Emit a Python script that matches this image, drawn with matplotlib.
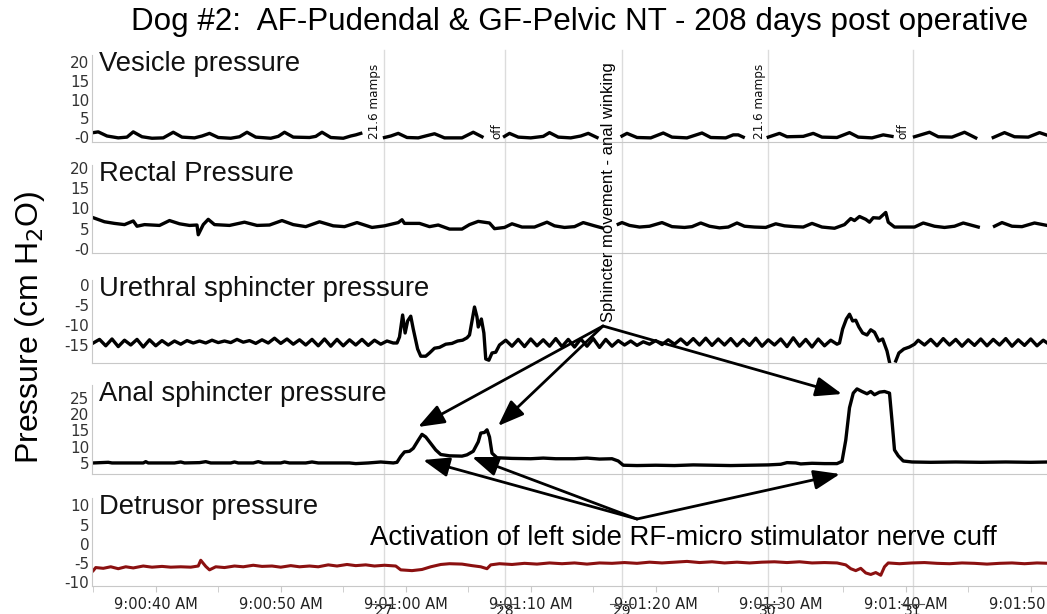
import matplotlib
matplotlib.use("Agg")
import matplotlib.pyplot as plt
import numpy as np
from matplotlib.lines import Line2D
from matplotlib.patches import FancyArrowPatch
from matplotlib.ticker import MultipleLocator, FuncFormatter, FixedLocator, FixedFormatter

plt.rcParams['axes.unicode_minus'] = False
nan = np.nan

# time in seconds after 9:00:40 AM, value in cm H2O
vesicle = [(-5.0, 1.2), (-4.6, 1.4), (-3.9, 0.3), (-3.0, -0.2), (-2.3, 0.0), (-1.8, 1.4), (-1.1, 0.1),
           (-0.3, -0.3), (0.6, -0.2), (1.4, 1.3), (2.1, 0.0), (3.1, -0.2), (3.7, 0.3), (4.3, 1.0),
           (5.0, -0.1), (6.0, -0.3), (6.7, 0.1), (7.3, 1.3), (8.0, 0.0), (9.2, -0.3), (9.8, 0.2),
           (10.3, 1.3), (11.0, 0.0), (12.3, -0.1), (12.8, 0.2), (13.3, 1.3), (14.0, -0.1), (15.0, -0.3),
           (15.6, 0.3), (16.0, 0.6), (16.4, 1.0), (17.3, nan), (18.3, -0.1), (18.8, 0.3), (19.4, 1.0),
           (20.1, -0.1), (21.0, -0.2), (21.7, 0.4), (22.3, 0.9), (23.1, -0.2), (24.5, -0.2), (25.4, 1.3),
           (26.1, 0.1), (27.0, nan), (27.9, 0.2), (28.3, 1.0), (29.0, 0.0), (30.0, -0.2), (31.0, 0.2),
           (31.5, 1.2), (32.2, 0.0), (33.2, -0.2), (34.0, 0.3), (34.6, 1.0), (35.3, -0.1), (36.3, nan),
           (37.3, 0.3), (37.7, 1.0), (38.5, -0.1), (39.6, -0.2), (40.6, 1.1), (41.3, 0.0), (42.5, -0.2),
           (43.7, 1.1), (44.4, -0.1), (45.6, -0.2), (46.2, 0.6), (46.6, 0.6), (47.0, 0.0), (48.0, nan),
           (49.0, 0.0), (49.9, 1.0), (50.5, 0.1), (51.8, 0.2), (52.6, 1.0), (53.3, 0.0), (54.5, -0.1),
           (55.5, 1.2), (56.2, 0.0), (57.3, -0.2), (58.2, 0.6), (58.9, 0.2), (59.8, nan), (60.7, 0.1),
           (61.9, 1.3), (62.6, 0.1), (63.7, 0.0), (64.7, 1.3), (65.6, -0.2), (66.3, nan), (67.0, -0.1),
           (67.9, 1.2), (68.7, 0.1), (69.8, 0.0), (70.7, 1.2), (71.5, 0.3)]

rectal = [(-5.0, 7.7), (-4.1, 6.7), (-3.3, 6.3), (-2.5, 6.0), (-1.8, 6.9), (-1.5, 5.6), (-0.9, 6.0),
          (0.3, 5.8), (1.1, 7.0), (1.9, 6.2), (2.7, 5.8), (3.3, 5.9), (3.4, 3.5), (3.8, 6.0), (4.2, 7.3),
          (4.7, 6.0), (5.9, 5.8), (7.1, 6.6), (8.1, 5.8), (9.1, 5.9), (10.1, 7.0), (11.0, 6.0), (12.0, 5.5),
          (13.1, 6.7), (14.2, 5.7), (15.1, 5.5), (16.1, 6.5), (17.3, 5.3), (18.3, 5.7), (19.4, 6.5),
          (19.7, 7.2), (19.9, 6.3), (21.1, 6.3), (21.9, 5.5), (22.6, 5.9), (23.5, 4.9), (24.5, 4.9),
          (25.1, 6.0), (25.8, 6.8), (26.7, 6.4), (27.1, 5.0), (27.9, 5.3), (28.5, 6.2), (29.3, 5.4),
          (30.3, 5.4), (31.3, 6.6), (31.9, 5.7), (32.7, 5.3), (33.5, 5.5), (34.2, 6.5), (35.1, 5.7),
          (35.7, 5.2), (36.3, nan), (37.0, 6.1), (37.3, 6.5), (37.9, 5.8), (38.7, 5.4), (39.5, 5.6),
          (40.5, 6.5), (41.3, 5.5), (42.3, 5.3), (42.9, 5.5), (43.6, 6.4), (44.3, 5.6), (45.1, 5.2),
          (45.8, 5.4), (46.5, 6.4), (47.1, 5.6), (47.9, 5.4), (48.8, 5.3), (49.6, 6.2), (50.3, 5.7),
          (51.1, 5.5), (51.8, 5.4), (52.5, 6.3), (53.3, 5.4), (54.3, 5.1), (55.1, 6.0), (55.6, 7.5),
          (55.9, 7.0), (56.3, 8.0), (56.8, 7.3), (57.1, 6.6), (57.4, 7.7), (57.9, 7.6), (58.4, 9.0),
          (58.6, 6.6), (59.1, 5.4), (60.7, 5.4), (61.4, 6.4), (62.3, 5.6), (63.1, 5.3), (63.9, 5.6),
          (64.6, 6.4), (65.8, 5.4), (66.4, nan), (67.1, 5.6), (67.7, 6.5), (68.5, 5.6), (69.3, 5.5),
          (70.3, 6.4), (71.3, 5.8)]

urethral = [(-5.0, -14.5), (-4.5, -13.6), (-4.0, -15.2), (-3.5, -13.5), (-3.0, -15.4), (-2.5, -13.8),
            (-2.0, -15.0), (-1.5, -13.6), (-1.0, -15.5), (-0.5, -13.7), (0.0, -15.2), (0.5, -13.9),
            (1.0, -15.0), (1.5, -14.0), (2.0, -14.8), (2.5, -13.9), (3.0, -14.5), (3.5, -14.0),
            (4.0, -14.5), (4.5, -13.8), (5.0, -14.4), (5.5, -14.0), (6.0, -14.4), (6.5, -13.6),
            (7.0, -14.3), (7.5, -13.9), (8.0, -14.6), (8.5, -13.7), (9.0, -14.5), (9.5, -13.3),
            (10.0, -14.6), (10.5, -13.5), (11.0, -14.8), (11.5, -13.7), (12.0, -15.0), (12.5, -13.6),
            (13.0, -15.2), (13.5, -13.5), (14.0, -15.3), (14.5, -13.6), (15.0, -15.2), (15.5, -13.7),
            (16.0, -15.0), (16.5, -13.6), (17.0, -15.1), (17.5, -13.8), (18.0, -14.8), (18.5, -14.0),
            (19.0, -14.5), (19.3, -14.5), (19.5, -13.0), (19.75, -7.5), (19.95, -12.0), (20.15, -9.0),
            (20.4, -7.8), (20.6, -11.0), (20.95, -16.0), (21.2, -17.8), (21.6, -17.8), (21.9, -17.0),
            (22.3, -15.8), (22.7, -15.6), (23.2, -14.8), (23.7, -14.6), (24.15, -14.0), (24.55, -13.8),
            (24.9, -13.2), (25.1, -12.5), (25.3, -9.0), (25.5, -5.5), (25.7, -8.0), (25.8, -10.5),
            (26.05, -8.5), (26.25, -12.0), (26.4, -18.5), (26.65, -18.8), (26.9, -17.0), (27.2, -16.8),
            (27.5, -15.0), (28.0, -13.8), (28.5, -15.3), (29.0, -13.6), (29.5, -15.4), (30.0, -13.5),
            (30.5, -15.2), (31.0, -13.7), (31.5, -15.3), (32.0, -13.4), (32.5, -15.4), (33.0, -13.6),
            (33.5, -15.5), (34.0, -13.5), (34.5, -15.3), (35.0, -13.4), (35.5, -15.6), (36.0, -13.6),
            (36.5, -15.3), (37.0, -13.9), (37.5, -15.0), (38.0, -14.0), (38.5, -15.1), (39.0, -14.2),
            (39.5, -14.8), (40.0, -13.9), (40.5, -14.9), (41.0, -13.7), (41.5, -14.8), (42.0, -13.5),
            (42.5, -14.9), (43.0, -13.4), (43.5, -15.0), (44.0, -13.3), (44.5, -15.1), (45.0, -13.5),
            (45.5, -15.0), (46.0, -13.4), (46.5, -15.2), (47.0, -13.6), (47.5, -15.1), (48.0, -13.3),
            (48.5, -15.3), (49.0, -13.7), (49.5, -15.0), (50.0, -13.5), (50.5, -15.4), (51.0, -13.2),
            (51.5, -15.3), (52.0, -13.6), (52.5, -15.5), (53.0, -13.5), (53.5, -15.2), (54.0, -13.8),
            (54.5, -14.8), (54.7, -14.5), (54.95, -11.0), (55.25, -8.5), (55.5, -7.3), (55.75, -9.0),
            (56.0, -8.8), (56.25, -10.5), (56.55, -12.0), (56.9, -12.5), (57.2, -11.2), (57.5, -11.8),
            (57.85, -14.0), (58.15, -13.5), (58.5, -16.5), (58.7, -19.3), (58.9, nan), (59.2, -19.0),
            (59.45, -17.0), (59.85, -16.0), (60.3, -15.5), (60.7, -14.8), (61.0, -13.8), (61.5, -15.0),
            (62.0, -13.6), (62.5, -15.2), (63.0, -13.4), (63.5, -15.0), (64.0, -13.6), (64.5, -15.3),
            (65.0, -13.7), (65.5, -15.1), (66.0, -13.5), (66.5, -15.2), (67.0, -13.6), (67.5, -15.0),
            (68.0, -13.4), (68.5, -15.3), (69.0, -13.7), (69.5, -15.1), (70.0, -13.5), (70.5, -15.2),
            (71.0, -13.8), (71.5, -14.9)]

anal = [(-5.0, 5.0), (-3.8, 5.2), (-3.5, 5.0), (-1.0, 5.0), (-0.8, 5.4), (-0.6, 5.0), (1.5, 5.0),
        (2.0, 5.3), (2.3, 5.0), (3.5, 5.1), (4.0, 5.4), (4.4, 5.0), (6.0, 5.0), (6.3, 5.3), (6.6, 5.0),
        (7.8, 5.0), (8.2, 5.4), (8.6, 5.0), (10.0, 5.0), (10.3, 5.3), (10.7, 5.0), (12.0, 5.0),
        (12.5, 5.3), (13.0, 5.0), (15.5, 5.0), (16.0, 4.8), (17.0, 5.0), (18.0, 5.3), (19.0, 5.0),
        (19.3, 5.2), (19.6, 7.0), (19.9, 8.4), (20.3, 8.6), (20.6, 9.5), (21.0, 12.0), (21.3, 13.8),
        (21.6, 13.0), (22.0, 11.0), (22.4, 9.0), (22.8, 7.6), (23.5, 7.2), (24.5, 7.1), (24.9, 7.5),
        (25.4, 8.6), (25.8, 11.5), (26.0, 14.2), (26.3, 14.4), (26.5, 15.2), (26.7, 13.0), (26.9, 8.0),
        (27.3, 6.6), (28.5, 6.4), (30.0, 6.3), (31.0, 6.5), (32.0, 6.3), (33.5, 6.3), (34.5, 6.5),
        (35.5, 6.2), (36.5, 6.3), (37.0, 5.6), (37.4, 4.3), (38.5, 4.2), (40.0, 4.3), (41.5, 4.2),
        (43.0, 4.4), (44.5, 4.3), (46.0, 4.2), (47.5, 4.3), (49.0, 4.4), (50.0, 4.6), (50.5, 5.1),
        (51.2, 5.0), (51.6, 4.7), (52.5, 4.9), (53.5, 4.8), (54.5, 4.8), (54.9, 5.5), (55.2, 12.0),
        (55.5, 22.0), (55.8, 26.5), (56.1, 27.8), (56.5, 27.0), (56.9, 26.3), (57.2, 27.0),
        (57.5, 26.0), (57.9, 26.8), (58.3, 27.0), (58.7, 26.5), (58.9, 18.0), (59.1, 9.0), (59.4, 7.2),
        (59.8, 5.6), (60.5, 5.3), (62.0, 5.2), (64.0, 5.3), (66.0, 5.2), (68.0, 5.3), (70.0, 5.2),
        (71.5, 5.3)]

detrusor = [(-5.0, -7.0), (-4.8, -6.2), (-4.2, -6.4), (-3.6, -6.0), (-3.0, -6.5), (-2.4, -6.0),
            (-1.8, -6.3), (-1.0, -5.8), (-0.3, -6.1), (0.5, -5.9), (1.2, -6.1), (2.0, -6.0), (2.8, -6.1),
            (3.4, -5.8), (3.6, -4.3), (4.0, -5.9), (4.3, -6.8), (4.8, -6.0), (5.5, -6.2), (6.3, -5.8),
            (7.0, -6.0), (7.8, -5.6), (8.5, -5.9), (9.3, -5.8), (10.0, -6.1), (10.8, -5.7), (11.5, -6.0),
            (12.3, -5.8), (13.0, -6.0), (13.8, -5.5), (14.5, -5.8), (15.3, -5.4), (16.0, -5.7),
            (16.8, -5.5), (17.5, -5.8), (18.3, -5.6), (19.2, -5.8), (19.6, -6.8), (20.5, -7.0),
            (21.3, -6.7), (22.0, -6.0), (22.8, -5.4), (23.5, -5.2), (24.5, -5.3), (25.3, -5.7),
            (26.0, -6.0), (26.5, -6.5), (26.8, -5.5), (27.5, -5.2), (28.5, -5.4), (29.5, -5.1),
            (30.5, -5.3), (31.5, -5.0), (32.5, -5.2), (33.5, -5.0), (34.5, -5.3), (35.5, -5.0),
            (36.5, -5.1), (37.5, -4.9), (38.5, -5.1), (39.5, -4.8), (40.5, -5.0), (41.5, -4.8),
            (42.5, -4.6), (43.5, -4.9), (44.5, -4.7), (45.5, -5.0), (46.5, -4.8), (47.5, -5.0),
            (48.5, -4.8), (49.5, -4.7), (50.5, -4.9), (51.5, -4.7), (52.5, -5.0), (53.5, -4.9),
            (54.5, -5.0), (55.2, -5.5), (55.6, -6.5), (56.0, -7.0), (56.4, -6.4), (56.8, -7.6),
            (57.2, -8.0), (57.6, -7.5), (58.0, -8.2), (58.3, -6.0), (58.6, -5.0), (59.5, -5.2),
            (60.5, -5.0), (61.5, -4.9), (62.5, -5.1), (63.5, -5.2), (64.5, -5.0), (65.5, -5.1),
            (66.5, -5.3), (67.5, -5.1), (68.5, -5.0), (69.5, -5.2), (70.5, -5.0), (71.5, -5.1)]

panel_names = ["Vesicle pressure", "Rectal Pressure", "Urethral sphincter pressure",
               "Anal sphincter pressure", "Detrusor pressure"]
panel_ticks = [[0, 5, 10, 15, 20], [0, 5, 10, 15, 20], [-15, -10, -5, 0],
               [5, 10, 15, 20, 25], [-10, -5, 0, 5, 10]]
panel_ticklabels = [["-0", "5", "10", "15", "20"], ["-0", "5", "10", "15", "20"],
                    ["-15", "-10", "-5", "0"], ["5", "10", "15", "20", "25"],
                    ["-10", "-5", "0", "5", "10"]]

# event markers (seconds after 9:00:40) and their labels
marker_t = [18.24, 27.92, 37.28, 48.96, 60.56]
marker_num = ["27", "28", "29", "30", "31"]
marker_text = [(17.5, "21.6 mamps"), (27.3, "off"), (48.3, "21.6 mamps"), (59.8, "off")]

W, H = 1047, 614
def fx(x): return x / W
def fy(y): return 1 - y / H

fig = plt.figure(figsize=(10.47, 6.14), dpi=100)

# axes boxes in pixels: (top, bottom), and y limits
boxes = [(55, 142), (165, 253), (280, 363), (385, 474), (498, 586)]
ylims = [(-1.3, 21.9), (-1.0, 20.7), (-19.5, 1.25), (1.6, 29.0), (-11.0, 11.9)]
series = [vesicle, rectal, urethral, anal, detrusor]
colors = ["black", "black", "black", "black", "#8b1010"]

spine_col = "#c8c8c8"
axes = []
for i in range(5):
    top, bot = boxes[i]
    ax = fig.add_axes([fx(92), fy(bot), 1 - fx(92), (bot - top) / H])
    t, v = zip(*series[i])
    ax.plot(t, v, color=colors[i], lw=2.4 if i < 4 else 2.2, solid_joinstyle='round')
    ax.set_xlim(-5.1, 71.3)
    ax.set_ylim(*ylims[i])
    for s in ["top", "right"]:
        ax.spines[s].set_visible(False)
    ax.spines["left"].set_color(spine_col)
    ax.spines["bottom"].set_color(spine_col)
    ax.yaxis.set_major_locator(FixedLocator(panel_ticks[i]))
    ax.yaxis.set_major_formatter(FixedFormatter(panel_ticklabels[i]))
    ax.tick_params(axis='y', length=0, pad=2, labelsize=11, labelcolor="#333333")
    ax.patch.set_alpha(0)
    ax.text(0.007, 1.05, panel_names[i], transform=ax.transAxes, va='top', ha='left',
            fontsize=19.7, family="Liberation Sans", color="#111111")
    if i < 4:
        ax.tick_params(axis='x', which='both', length=0, labelbottom=False)
    axes.append(ax)

ax = axes[-1]
ax.xaxis.set_major_locator(MultipleLocator(10))
ax.xaxis.set_minor_locator(MultipleLocator(5))

def fmt(v, pos):
    s = 40 + int(round(v))
    return "9:%02d:%02d AM" % (s // 60, s % 60)

ax.xaxis.set_major_formatter(FuncFormatter(fmt))
ax.tick_params(axis='x', which='both', length=4, color=spine_col, labelsize=10.5,
               labelcolor="#222222", pad=4)

# marker grid lines across panels
fig.canvas.draw()
for m, num in zip(marker_t, marker_num):
    xf = fig.transFigure.inverted().transform(axes[0].transData.transform((m, 0)))[0]
    fig.add_artist(Line2D([xf, xf], [fy(50), fy(598)], color="#dcdcdc", lw=1, zorder=0))
    fig.text(xf, fy(604), num, ha='center', va='top', fontsize=10, color="#222222")
    fig.add_artist(Line2D([xf - 0.011, xf + 0.011], [fy(604), fy(604)], color="#555555", lw=0.8))

for t0, txt in marker_text:
    axes[0].text(t0, -0.6, txt, rotation=90, ha='center', va='bottom', fontsize=9.5,
                 fontstretch='condensed', color="#111111")

# title and axis label
fig.text(fx(580), fy(22), "Dog #2:  AF-Pudendal & GF-Pelvic NT - 208 days post operative",
         ha='center', va='center', fontsize=22.6, family="Liberation Sans")
fig.text(fx(30), fy(327), "Pressure (cm H$_2$O)", rotation=90, ha='center', va='center',
         fontsize=23, family="Liberation Sans")

fig.text(fx(609), fy(322), "Sphincter movement - anal winking", rotation=90, ha='center',
         va='bottom', fontsize=12, family="Liberation Sans")
fig.text(fx(370), fy(538), "Activation of left side RF-micro stimulator nerve cuff",
         ha='left', va='center', fontsize=19.8, family="Liberation Sans")

arrows_top = [(418, 427), (498, 426), (842, 394)]
arrows_bot = [(423, 460), (472, 457), (840, 474)]
for start, ends in [((603, 326), arrows_top), ((637, 519), arrows_bot)]:
    for e in ends:
        fig.add_artist(FancyArrowPatch((fx(start[0]), fy(start[1])), (fx(e[0]), fy(e[1])),
                                       transform=fig.transFigure,
                                       arrowstyle='-|>,head_length=0.8,head_width=0.3',
                                       mutation_scale=20, lw=2, color='black',
                                       shrinkA=0, shrinkB=0))

fig.savefig("out.png", dpi=100)
